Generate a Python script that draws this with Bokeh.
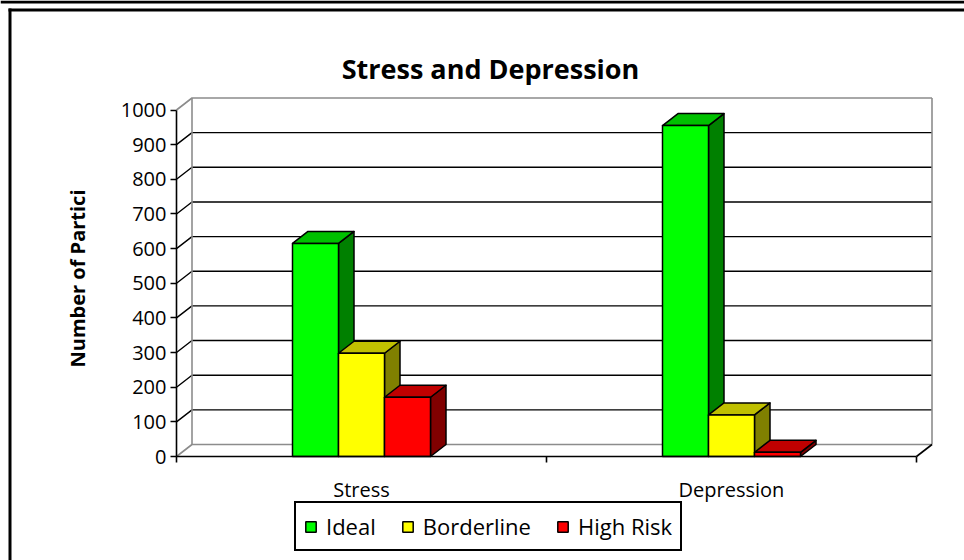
import math

from bokeh.core.properties import value
from bokeh.embed import file_html
from bokeh.models import FixedTicker, Legend, LegendItem, LinearAxis, Range1d
from bokeh.plotting import figure
from bokeh.resources import INLINE

# ---- data -------------------------------------------------------------
categories = ["Stress", "Depression"]
series_names = ["Ideal", "Borderline", "High Risk"]
ideal = [615, 955]
borderline = [298, 120]
high_risk = [171, 12]
y_ticks = [0, 100, 200, 300, 400, 500, 600, 700, 800, 900, 1000]

title_text = "Stress and Depression"
y_label_text = "Number of Partici"

# ---- styling ----------------------------------------------------------
front_colors = ["#00FF00", "#FFFF00", "#FF0000"]
top_colors = ["#00C000", "#C0C000", "#C00000"]
side_colors = ["#008000", "#808000", "#800000"]
FONT = "Open Sans"

# ---- geometry of the canvas --------------------------------------------
W, H = 964, 560
X0_PX, Y0_PX = 176, 456      # canvas pixel of the origin (category 0, value 0)
CAT_PX = 370                 # pixels per category slot
UNIT_PX = 0.3465             # pixels per value unit
DX = 15.5 / CAT_PX           # depth offset of the 3-D box, in data units
DY = 12.0 / UNIT_PX
BAR_W = 46 / CAT_PX          # bar width in category units
GROUP_START = 116 / CAT_PX   # first bar's left edge inside a category slot
N_CAT = len(categories)
Y_MAX = y_ticks[-1]


def px_x(x):
    return (x - X0_PX) / CAT_PX


def px_y(y):
    return (Y0_PX - y) / UNIT_PX


p = figure(
    width=W, height=H,
    x_range=Range1d(px_x(0), px_x(W)),
    y_range=Range1d(px_y(H), px_y(0)),
    x_axis_type=None, y_axis_type=None,
    output_backend="svg", toolbar_location=None,
    min_border=0, outline_line_color=None,
    background_fill_color="white", border_fill_color="white",
)

# ---- page frame -------------------------------------------------------
p.line([px_x(0), px_x(W)], [px_y(1.5), px_y(1.5)], line_color="black", line_width=3)
p.line([px_x(8), px_x(W)], [px_y(9.5), px_y(9.5)], line_color="black", line_width=3)
p.line([px_x(9.5), px_x(9.5)], [px_y(8), px_y(H)], line_color="black", line_width=3)

# ---- 3-D walls and gridlines -------------------------------------------
grid_xs, grid_ys = [], []
for v in y_ticks[1:-1]:
    grid_xs.append([0, DX, N_CAT + DX])
    grid_ys.append([v, v + DY, v + DY])
p.multi_line(grid_xs, grid_ys, line_color="black", line_width=1.4)

wall_xs = [
    [0, DX, N_CAT + DX],                 # floor edge on back wall
    [0, DX, N_CAT + DX],                 # top edge on back wall
    [DX, DX],                            # back wall left edge
    [N_CAT + DX, N_CAT + DX],            # back wall right edge
]
wall_ys = [
    [0, DY, DY],
    [Y_MAX, Y_MAX + DY, Y_MAX + DY],
    [DY, Y_MAX + DY],
    [DY, Y_MAX + DY],
]
p.multi_line(wall_xs, wall_ys, line_color="#8C8C8C", line_width=1.6)
# front floor corner on the right
p.line([N_CAT, N_CAT + DX], [0, DY], line_color="black", line_width=1.6)

# ---- bars ---------------------------------------------------------------
values = [ideal, borderline, high_risk]
legend_items = []
for i, vals in enumerate(values):
    lefts = [j + GROUP_START + i * BAR_W for j in range(N_CAT)]
    rights = [l + BAR_W for l in lefts]
    side_xs = [[r, r + DX, r + DX, r] for r in rights]
    side_ys = [[0, DY, v + DY, v] for v in vals]
    top_xs = [[l, r, r + DX, l + DX] for l, r in zip(lefts, rights)]
    top_ys = [[v, v, v + DY, v + DY] for v in vals]
    p.patches(side_xs, side_ys, fill_color=side_colors[i], line_color="black",
              line_width=1.5, line_join="round")
    p.patches(top_xs, top_ys, fill_color=top_colors[i], line_color="black",
              line_width=1.5, line_join="round")
    front = p.quad(left=lefts, right=rights, bottom=[0] * N_CAT, top=vals,
                   fill_color=front_colors[i], line_color="black", line_width=1.5)
    legend_items.append(LegendItem(label=series_names[i], renderers=[front]))

# ---- axes -----------------------------------------------------------------
y_axis = LinearAxis(
    fixed_location=0, bounds=(0, Y_MAX), ticker=FixedTicker(ticks=y_ticks),
    axis_line_color="black", axis_line_width=1.6,
    major_tick_line_color="black", major_tick_line_width=1.6,
    major_tick_out=6, major_tick_in=0, minor_tick_out=0, minor_tick_in=0,
    major_label_text_font=FONT, major_label_text_font_size="20px",
    major_label_text_color="black", major_label_standoff=4,
)
p.add_layout(y_axis, "left")

x_axis = LinearAxis(
    fixed_location=0, bounds=(0, N_CAT),
    ticker=FixedTicker(ticks=[j + 0.5 for j in range(N_CAT)],
                       minor_ticks=list(range(N_CAT + 1))),
    major_label_overrides={j + 0.5: c for j, c in enumerate(categories)},
    axis_line_color="black", axis_line_width=1.6,
    major_tick_out=0, major_tick_in=0,
    minor_tick_line_color="black", minor_tick_line_width=1.6,
    minor_tick_out=6, minor_tick_in=0,
    major_label_text_font=FONT, major_label_text_font_size="20px",
    major_label_text_color="black", major_label_standoff=13,
)
p.add_layout(x_axis, "below")

# ---- titles ---------------------------------------------------------------
p.text(x=[px_x(490)], y=[px_y(68)], text=[title_text],
       text_font=value(FONT), text_font_size="27px", text_font_style="bold",
       text_align="center", text_baseline="alphabetic", text_color="black")
p.text(x=[px_x(77)], y=[px_y(367)], text=[y_label_text], angle=math.pi / 2,
       text_font=value(FONT), text_font_size="20px", text_font_style="bold",
       text_align="left", text_baseline="middle", text_color="black")

# ---- legend ---------------------------------------------------------------
legend = Legend(
    items=legend_items, orientation="horizontal", location=(294, 9),
    label_text_font=FONT, label_text_font_size="22px", label_text_color="black",
    glyph_width=13, glyph_height=13, label_height=20, label_standoff=9,
    spacing=25, padding=8, margin=0,
    border_line_color="black", border_line_width=2, border_line_alpha=1.0,
    background_fill_color="white", background_fill_alpha=1.0,
)
p.add_layout(legend, "center")

open("out.html", "w").write(file_html(p, INLINE))
